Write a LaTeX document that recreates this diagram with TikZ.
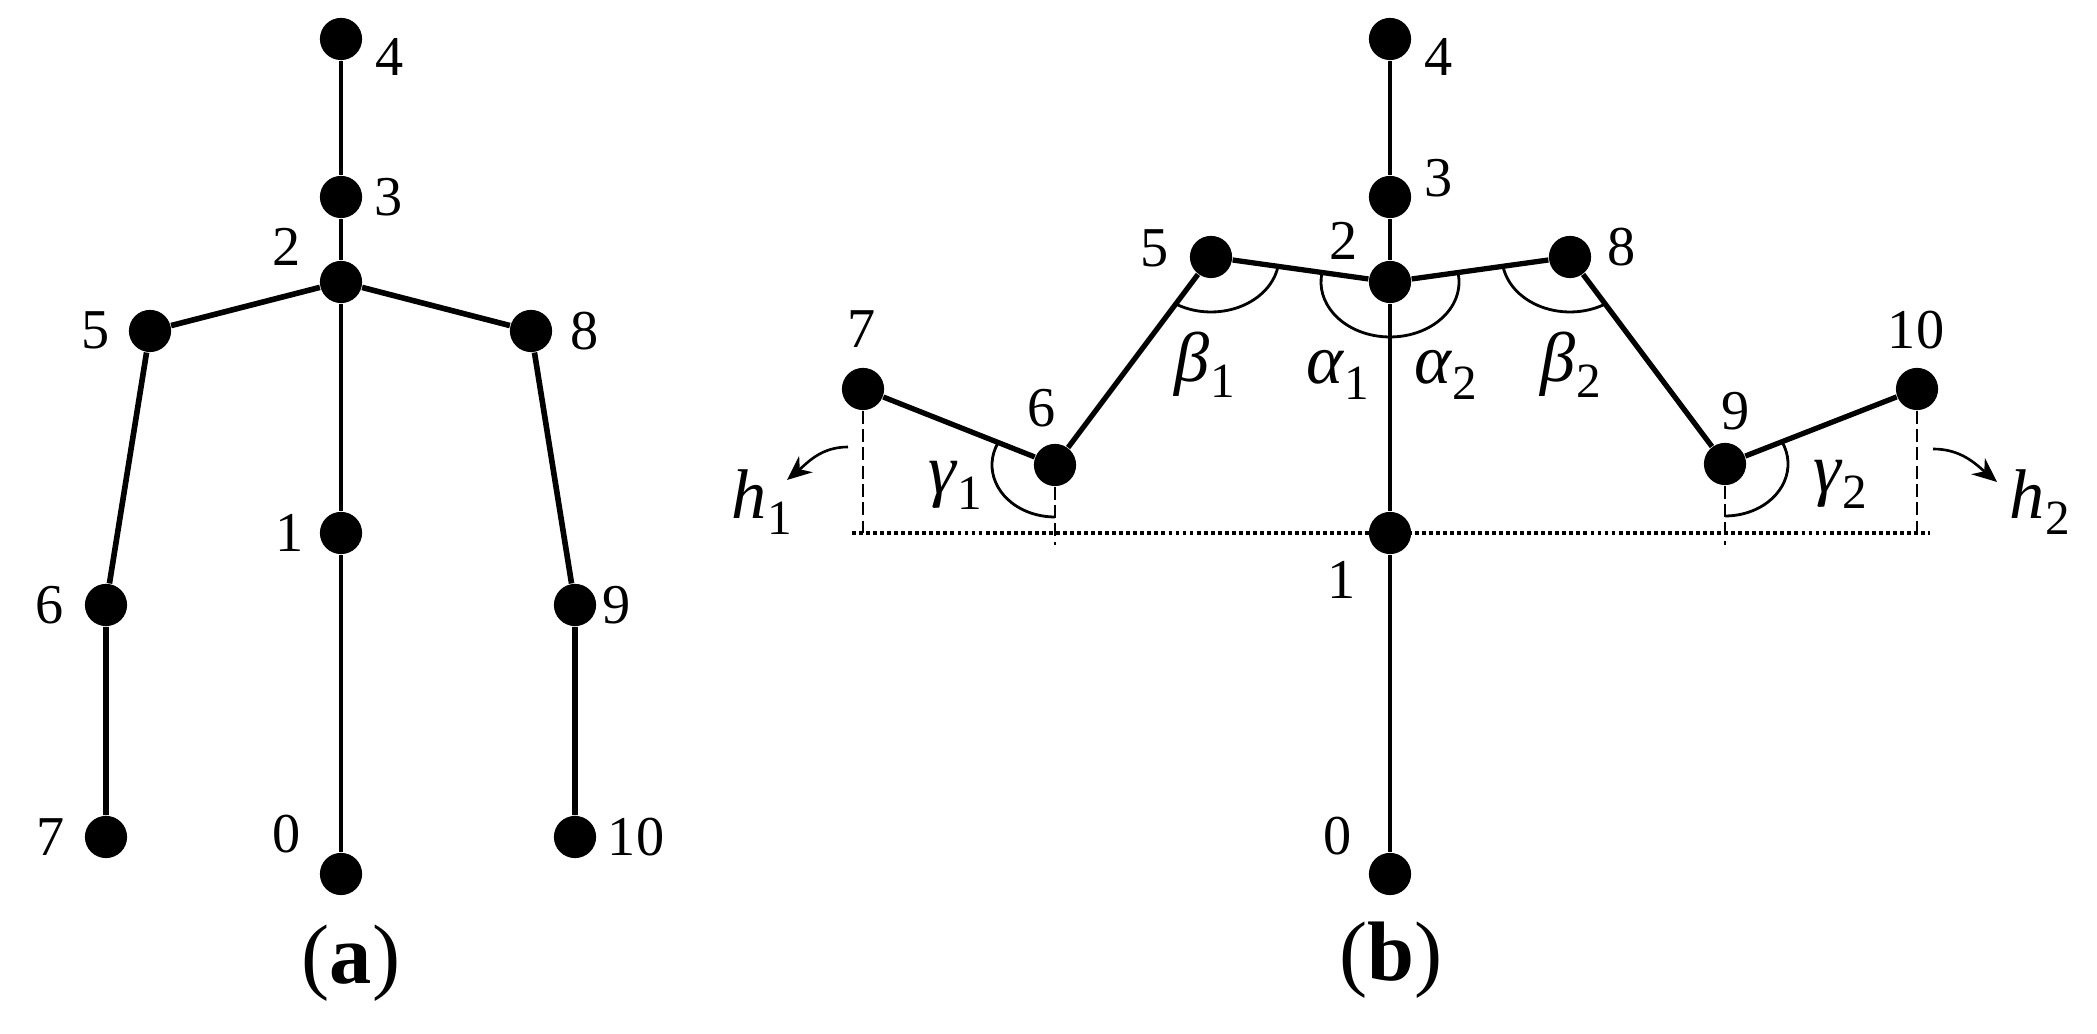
\documentclass[tikz,border=0pt]{standalone}
\usepackage{fontspec}
\setmainfont{Liberation Serif}
\usetikzlibrary{arrows.meta}
\newcommand{\gsub}[2]{{\fontsize{20}{20}\selectfont\itshape #1}\kern0.3pt\raisebox{-4.5pt}{\fontsize{14}{14}\selectfont #2}}
\begin{document}
\begin{tikzpicture}[x=0.01cm,y=0.01cm,
  joint/.style={circle, fill=black, inner sep=0pt, minimum size=12pt},
  lab/.style={inner sep=0pt, font=\fontsize{16}{16}\selectfont},
  glab/.style={inner sep=0pt},
  captext/.style={inner sep=0pt, font=\fontsize{24}{24}\selectfont},
  spinea/.style={line width=1.35pt},
  limba/.style={line width=1.6pt},
  spineb/.style={line width=1.25pt},
  limbb/.style={line width=1.5pt},
  angarc/.style={line width=0.8pt},
  vdash/.style={line width=0.75pt, dash pattern=on 3.7pt off 1.5pt},
  hdot/.style={line width=1.05pt, dash pattern=on 1.1pt off 0.9pt},
  harrow/.style={line width=0.75pt, -{Stealth[length=7pt,width=6pt]}}]
\useasboundingbox (0,0) rectangle (2097,1034);

% ---------- panel (a) ----------
\node[joint] (a4) at (341,995) {};
\node[joint] (a3) at (341,837) {};
\node[joint] (a2) at (341,752) {};
\node[joint] (a5) at (150,703) {};
\node[joint] (a8) at (531,703) {};
\node[joint] (a1) at (341,501) {};
\node[joint] (a6) at (106,429) {};
\node[joint] (a9) at (575,429) {};
\node[joint] (a7) at (106,197) {};
\node[joint] (a10) at (575,197) {};
\node[joint] (a0) at (341,160) {};

\draw[spinea] (a4) -- (a3) -- (a2) -- (a1) -- (a0);
\draw[limba] (a2) -- (a5) -- (a6) -- (a7);
\draw[limba] (a2) -- (a8) -- (a9) -- (a10);

\node[lab] (la4) at (390,977) {4};
\node[lab] (la3) at (389,837) {3};
\node[lab] (la2) at (287,787) {2};
\node[lab] (la5) at (96,704) {5};
\node[lab] (la8) at (585,703) {8};
\node[lab] (la1) at (290,501) {1};
\node[lab] (la6) at (50,429) {6};
\node[lab] (la9) at (617,429) {9};
\node[lab] (la7) at (51,197) {7};
\node[lab] (la10) at (636,197) {10};
\node[lab] (la0) at (287,200) {0};
\node[captext] (capa) at (351,71) {(\textbf{a})};

% ---------- panel (b) ----------
\node[joint] (b4) at (1390,995) {};
\node[joint] (b3) at (1390,837) {};
\node[joint] (b2) at (1390,752) {};
\node[joint] (b5) at (1211,777) {};
\node[joint] (b8) at (1570,777) {};
\node[joint] (b7) at (863,645) {};
\node[joint] (b6) at (1055,569) {};
\node[joint] (b9) at (1725,570) {};
\node[joint] (b10) at (1917,645) {};
\node[joint] (b1) at (1390,501) {};
\node[joint] (b0) at (1390,160) {};

\coordinate (dl) at (852,501);
\coordinate (dr) at (1930,501);
\coordinate (f7) at (863,501);
\coordinate (f10) at (1917,501);
\coordinate (f6) at (1055,489);
\coordinate (f9) at (1725,489);

\draw[hdot] (dl) -- (dr);
\draw[vdash] (b7) -- (f7);
\draw[vdash] (b10) -- (f10);
\draw[vdash] (b6) -- (f6);
\draw[vdash] (b9) -- (f9);

\draw[spineb] (b4) -- (b3) -- (b2) -- (b1) -- (b0);
\draw[limbb] (b2) -- (b5) -- (b6) -- (b7);
\draw[limbb] (b2) -- (b8) -- (b9) -- (b10);

\draw[angarc] ([shift={(170.1:69 and 55)}]b2.center) arc[start angle=170.1, end angle=369.9, x radius=69, y radius=55];
\draw[angarc] ([shift={(-9.8:68 and 55)}]b5.center) arc[start angle=-9.8, end angle=-121.3, x radius=68, y radius=55];
\draw[angarc] ([shift={(-58.8:68 and 55)}]b8.center) arc[start angle=-58.8, end angle=-170.3, x radius=68, y radius=55];
\draw[angarc] ([shift={(154.4:63 and 52)}]b6.center) arc[start angle=154.4, end angle=270, x radius=63, y radius=52];
\draw[angarc] ([shift={(25.3:63 and 52)}]b9.center) arc[start angle=25.3, end angle=-90, x radius=63, y radius=52];

\coordinate (h1s) at (848,587);
\coordinate (h1e) at (787,554);
\coordinate (h2s) at (1933,585);
\coordinate (h2e) at (1997,552);
\draw[harrow] (h1s) to[out=180,in=40] (h1e);
\draw[harrow] (h2s) to[out=0,in=140] (h2e);

\node[lab] (lb4) at (1439,977) {4};
\node[lab] (lb3) at (1439,856) {3};
\node[lab] (lb2) at (1344,793) {2};
\node[lab] (lb8) at (1622,787) {8};
\node[lab] (lb5) at (1155,786) {5};
\node[lab] (lb7) at (862,705) {7};
\node[lab] (lb6) at (1042,626) {6};
\node[lab] (lb9) at (1736,623) {9};
\node[lab] (lb10) at (1916,704) {10};
\node[lab] (lb1) at (1342,454) {1};
\node[lab] (lb0) at (1338,198) {0};

\node[glab] (beta1) at (1205,669) {\gsub{β}{1}};
\node[glab] (alpha1) at (1338,659) {\gsub{α}{1}};
\node[glab] (alpha2) at (1446,659) {\gsub{α}{2}};
\node[glab] (beta2) at (1571,669) {\gsub{β}{2}};
\node[glab] (gamma1) at (955,549) {\gsub{γ}{1}};
\node[glab] (gamma2) at (1840,550) {\gsub{γ}{2}};
\node[glab] (hh1) at (762,532) {\gsub{h}{1}};
\node[glab] (hh2) at (2040,532) {\gsub{h}{2}};
\node[captext] (capb) at (1391,74) {(\textbf{b})};
\end{tikzpicture}
\end{document}
